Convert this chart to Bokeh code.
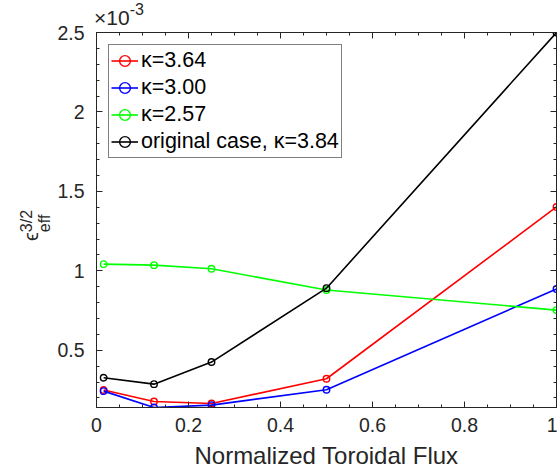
from bokeh.plotting import figure
from bokeh.models import (ColumnDataSource, Legend, LegendItem, FixedTicker,
                          LinearAxis, Range1d, CustomJSTickFormatter, Div)
from bokeh.layouts import column, row
from bokeh.embed import file_html
from bokeh.resources import INLINE

# ---- data (y values in units of 1e-3) ----
flux = [0.0156, 0.125, 0.25, 0.5, 1.0]
kappa_364 = [0.250, 0.178, 0.165, 0.321, 1.402]
kappa_300 = [0.243, 0.140, 0.155, 0.252, 0.886]
kappa_257 = [1.042, 1.036, 1.013, 0.879, 0.753]
kappa_384 = [0.327, 0.287, 0.426, 0.891, 2.500]

series_names = ["κ=3.64", "κ=3.00", "κ=2.57", "original case, κ=3.84"]
series_colors = ["#ff0000", "#0000ff", "#00ff00", "#000000"]
series_values = [kappa_364, kappa_300, kappa_257, kappa_384]

x_ticks = [0, 0.2, 0.4, 0.6, 0.8, 1.0]
x_minor = [i * 0.05 for i in range(21)]
y_ticks = [0.5, 1.0, 1.5, 2.0, 2.5]
y_minor = [round(0.2 + i * 0.1, 2) for i in range(24)]

FONT = "Liberation Sans"
TXT = "#262626"

TOP_H = 20
LEFT_W = 54
W, H = 557, 472

p = figure(width=W - LEFT_W, height=H - TOP_H, output_backend="svg",
           toolbar_location=None,
           x_range=Range1d(0, 1), y_range=Range1d(0.14, 2.5),
           min_border_left=93 - LEFT_W, min_border_right=1, min_border_top=12,
           min_border_bottom=65, margin=0)
p.xgrid.visible = False
p.ygrid.visible = False
p.outline_line_color = TXT
p.outline_line_width = 1
p.background_fill_color = "white"
p.border_fill_alpha = 0

xt = FixedTicker(ticks=x_ticks, minor_ticks=x_minor)
yt = FixedTicker(ticks=y_ticks, minor_ticks=y_minor)


def style_axis(ax):
    ax.axis_line_color = TXT
    ax.major_tick_line_color = TXT
    ax.minor_tick_line_color = TXT
    ax.major_tick_in = 6
    ax.major_tick_out = 0
    ax.minor_tick_in = 3
    ax.minor_tick_out = 0
    ax.major_label_text_font = FONT
    ax.major_label_text_color = TXT
    ax.major_label_text_font_size = "19.5px"
    ax.axis_label_text_font = FONT
    ax.axis_label_text_font_style = "normal"
    ax.axis_label_text_color = TXT
    ax.axis_label_text_font_size = "24px"


p.xaxis.ticker = xt
p.yaxis.ticker = yt
p.xaxis.major_label_overrides = {0: "0", 1.0: "1"}
p.yaxis.major_label_overrides = {1.0: "1", 2.0: "2"}
style_axis(p.xaxis[0])
style_axis(p.yaxis[0])
p.xaxis.axis_label = "Normalized Toroidal Flux"
p.xaxis.major_label_standoff = 10
p.xaxis.axis_label_standoff = 7
p.yaxis.major_label_standoff = 12

blank = CustomJSTickFormatter(code="return '';")
top_ax = LinearAxis(ticker=xt, formatter=blank)
style_axis(top_ax)
top_ax.major_label_text_font_size = "1px"
top_ax.major_label_standoff = 0
top_ax.axis_label_standoff = 0
right_ax = LinearAxis(ticker=yt, formatter=blank)
style_axis(right_ax)
right_ax.major_label_text_font_size = "1px"
right_ax.major_label_standoff = 0
right_ax.axis_label_standoff = 0
p.add_layout(top_ax, "above")
p.add_layout(right_ax, "right")

items = []
for name, color, vals in zip(series_names, series_colors, series_values):
    src = ColumnDataSource(dict(x=flux, y=vals))
    r1 = p.line("x", "y", source=src, line_color=color, line_width=1.6)
    r2 = p.scatter("x", "y", source=src, marker="circle", size=6.5,
                   line_color=color, line_width=1.4, fill_color=None)
    items.append(LegendItem(label=name, renderers=[r1, r2]))

legend = Legend(items=items, location="top_left")
legend.margin = 12
legend.padding = 2
legend.spacing = 0
legend.glyph_width = 27
legend.glyph_height = 27
legend.label_height = 27
legend.label_standoff = 3
legend.label_text_font = FONT
legend.label_text_font_size = "21.5px"
legend.label_text_color = "#000000"
legend.border_line_color = "#000000"
legend.border_line_width = 1
legend.background_fill_alpha = 1
p.add_layout(legend)

FF = "'Liberation Sans', 'DejaVu Sans', sans-serif"

# exponent "x10^-3" above the axes
top_html = (
    f'<div style="position:relative;width:{W}px;height:{TOP_H}px;overflow:visible">'
    f'<span style="position:absolute;left:94px;top:8px;line-height:20px;'
    f'font-size:21px;font-family:{FF};color:{TXT};white-space:nowrap">×10'
    f'<span style="font-size:16px;position:relative;top:-10.5px">-3</span></span></div>'
)
top_div = Div(text=top_html, width=W, height=TOP_H, margin=0,
              styles={"overflow": "visible", "z-index": "2"})

# rotated y label: epsilon_eff^{3/2}
left_html = (
    f'<div style="position:relative;width:{LEFT_W}px;height:{H - TOP_H}px;overflow:visible">'
    f'<span style="position:absolute;left:17.5px;top:{241 - TOP_H}px;'
    f'transform-origin:0 0;transform:rotate(-90deg);white-space:nowrap;'
    f'font-size:20px;line-height:20px;font-family:{FF};color:{TXT}">ϵ'
    f'<span style="display:inline-block;vertical-align:-12px;font-size:16px;'
    f'line-height:18px;text-align:left"><span style="display:block">3/2</span>'
    f'<span style="display:block">eff</span></span></span></div>'
)
left_div = Div(text=left_html, width=LEFT_W, height=H - TOP_H, margin=0)

layout = column(top_div, row(left_div, p, spacing=0, margin=0), spacing=0, margin=0)

open("out.html", "w").write(file_html(layout, INLINE))
